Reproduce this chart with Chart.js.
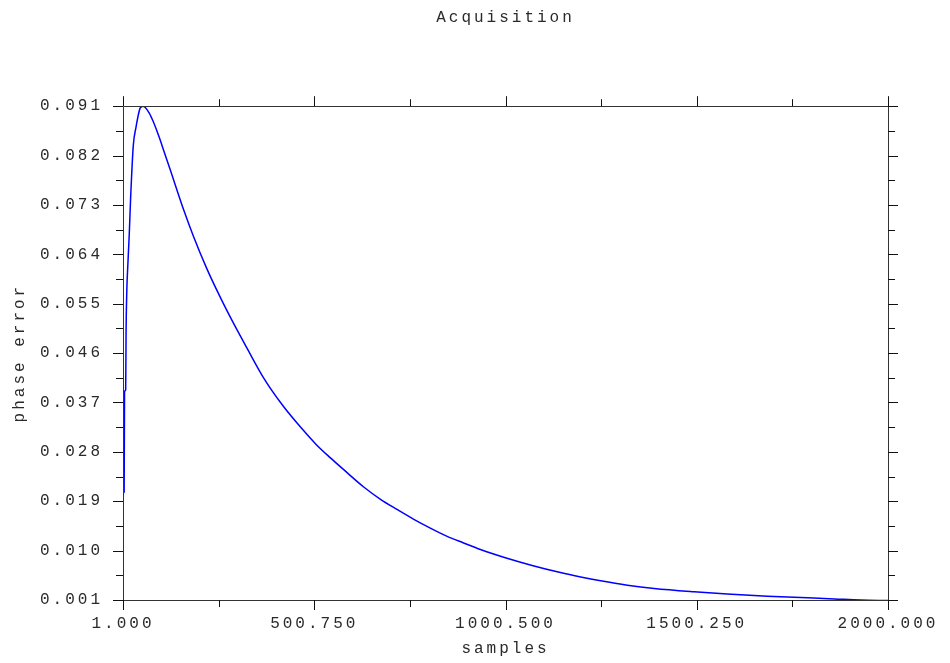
<!DOCTYPE html>
<html>
<head>
<meta charset="utf-8">
<script src="https://cdn.jsdelivr.net/npm/chart.js@4/dist/chart.umd.min.js"></script>
<style>
  html, body { margin: 0; padding: 0; background: #ffffff; }
  #wrap { width: 950px; height: 663px; }
</style>
</head>
<body>
<div id="wrap"><canvas id="c" width="950" height="663"></canvas></div>
<script>
// ---- data ----
const chartTitle = 'Acquisition';
const xTitle = 'samples';
const yTitle = 'phase error';
const xTickValues = [1, 500.75, 1000.5, 1500.25, 2000];
const yTickValues = [0.001, 0.010, 0.019, 0.028, 0.037, 0.046, 0.055, 0.064, 0.073, 0.082, 0.091];
const sampleIdx = [1, 2, 4, 5, 8, 9, 11, 13, 17.5, 21, 28, 35, 41, 45.5, 48, 53, 58.6, 70, 80, 89, 98, 106, 124, 159, 185, 220, 255, 290, 325, 370, 420, 470, 505, 543, 577, 630, 673, 717, 761, 804, 848, 891, 935, 1000, 1070, 1144, 1197, 1249, 1319, 1389, 1493, 1580, 1685, 1790, 1860, 1929, 2000];
const phaseErr = [0.0125, 0.0207, 0.0207, 0.0389, 0.0393, 0.0496, 0.0575, 0.0611, 0.0679, 0.0744, 0.0839, 0.0872, 0.0894, 0.0906, 0.0908, 0.0910, 0.0908, 0.0897, 0.0882, 0.0866, 0.0849, 0.0832, 0.0795, 0.0722, 0.0673, 0.0614, 0.0562, 0.0514, 0.0469, 0.0413, 0.0363, 0.0321, 0.0294, 0.0269, 0.0248, 0.0216, 0.0194, 0.0175, 0.0157, 0.0141, 0.0126, 0.0114, 0.0102, 0.0087, 0.0073, 0.0060, 0.0052, 0.0045, 0.0037, 0.0031, 0.0025, 0.0021, 0.0017, 0.0014, 0.0012, 0.0010, 0.0009];

const points = sampleIdx.map((s, i) => ({ x: s, y: phaseErr[i] }));

const FONT_FAMILY = '"Liberation Mono", "DejaVu Sans Mono", monospace';
const TEXT_COLOR = '#2a2a2a';
const AXIS_COLOR = '#333333';
const LETTER_SPACING = '3px';

function setSpacing(chart) {
  try { chart.ctx.letterSpacing = LETTER_SPACING; } catch (e) {}
}

const spacingPlugin = {
  id: 'spacing',
  beforeInit: setSpacing,
  beforeUpdate: setSpacing,
  beforeLayout: setSpacing,
  beforeDraw: setSpacing,
  afterDatasetsDraw: setSpacing
};

// frame + major/minor tick marks on all four sides, positioned via the chart scales
const framePlugin = {
  id: 'frame',
  afterDraw(chart) {
    const ctx = chart.ctx;
    const a = chart.chartArea;
    const xs = chart.scales.x, ys = chart.scales.y;
    ctx.save();
    ctx.strokeStyle = AXIS_COLOR;
    ctx.lineWidth = 1;
    ctx.beginPath();
    ctx.rect(Math.round(a.left) + 0.5, Math.round(a.top) + 0.5, Math.round(a.right - a.left), Math.round(a.bottom - a.top));
    ctx.stroke();
    const MAJ = 10, MIN = 7;
    const yVals = [];
    yTickValues.forEach((v, i) => {
      yVals.push([v, MAJ]);
      if (i < yTickValues.length - 1) yVals.push([(v + yTickValues[i + 1]) / 2, MIN]);
    });
    const xVals = [];
    xTickValues.forEach((v, i) => {
      xVals.push([v, MAJ]);
      if (i < xTickValues.length - 1) xVals.push([(v + xTickValues[i + 1]) / 2, MIN]);
    });
    ctx.strokeStyle = '#111';
    ctx.beginPath();
    yVals.forEach(([v, len]) => {
      const p = Math.round(ys.getPixelForValue(v)) + 0.5;
      ctx.moveTo(a.left - len, p); ctx.lineTo(a.left, p);
      ctx.moveTo(a.right, p); ctx.lineTo(a.right + len, p);
    });
    xVals.forEach(([v, len]) => {
      const p = Math.round(xs.getPixelForValue(v)) + 0.5;
      ctx.moveTo(p, a.bottom); ctx.lineTo(p, a.bottom + len);
      ctx.moveTo(p, a.top); ctx.lineTo(p, a.top - len);
    });
    ctx.stroke();
    ctx.restore();
  }
};

new Chart(document.getElementById('c'), {
  type: 'line',
  data: {
    datasets: [{
      data: points,
      borderColor: '#0000ff',
      borderWidth: 1.5,
      pointRadius: 0,
      fill: false,
      cubicInterpolationMode: 'monotone'
    }]
  },
  options: {
    responsive: false,
    animation: false,
    devicePixelRatio: 1,
    layout: { padding: { left: 0, right: 62, top: 0, bottom: 0 } },
    plugins: {
      legend: { display: false },
      tooltip: { enabled: false },
      title: {
        display: true,
        text: chartTitle,
        color: TEXT_COLOR,
        font: { family: FONT_FAMILY, size: 16, weight: 'normal' },
        padding: { top: 8, bottom: 79 },
        fullSize: false
      }
    },
    scales: {
      x: {
        type: 'linear',
        position: 'bottom',
        min: 1,
        max: 2000,
        afterBuildTicks(scale) { scale.ticks = xTickValues.map(v => ({ value: v })); },
        afterFit(scale) { scale.height = 63; },
        grid: { display: false },
        border: { display: false },
        ticks: {
          color: TEXT_COLOR,
          font: { family: FONT_FAMILY, size: 16 },
          padding: 6,
          maxRotation: 0,
          autoSkip: false,
          callback: v => Number(v).toFixed(3)
        },
        title: {
          display: true,
          text: xTitle,
          color: TEXT_COLOR,
          font: { family: FONT_FAMILY, size: 16 },
          padding: { top: 0, bottom: 5 }
        }
      },
      y: {
        type: 'linear',
        position: 'left',
        min: 0.001,
        max: 0.091,
        afterBuildTicks(scale) { scale.ticks = yTickValues.map(v => ({ value: v })); },
        afterFit(scale) { scale.width = 123; },
        grid: { display: false },
        border: { display: false },
        ticks: {
          color: TEXT_COLOR,
          font: { family: FONT_FAMILY, size: 16 },
          padding: 12,
          autoSkip: false,
          callback: v => Number(v).toFixed(3)
        },
        title: {
          display: true,
          text: yTitle,
          color: TEXT_COLOR,
          font: { family: FONT_FAMILY, size: 16 },
          padding: { top: 10, bottom: 0 }
        }
      }
    }
  },
  plugins: [spacingPlugin, framePlugin]
});
</script>
</body>
</html>
